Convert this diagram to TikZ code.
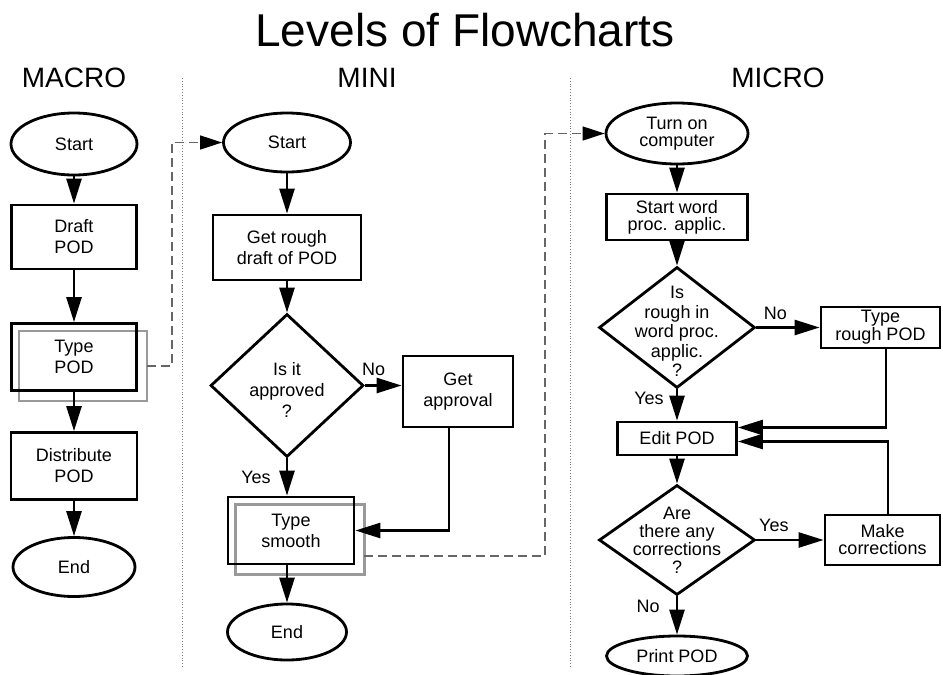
\documentclass[tikz,border=0pt]{standalone}
\usepackage{fontspec}
\setmainfont{Liberation Sans}
\usetikzlibrary{arrows.meta,shapes.geometric,backgrounds}

\tikzset{
  >={Triangle[length=25pt,width=15pt]},
  txt/.style={font=\fontsize{18}{21}\selectfont, align=center},
  head/.style={font=\fontsize{28}{32}\selectfont, anchor=base},
  term/.style={txt, draw, ellipse, line width=2.8pt, inner sep=0pt},
  proc/.style={txt, draw, rectangle, line width=2.8pt, inner sep=0pt},
  deci/.style={draw, diamond, line width=2.8pt, inner sep=0pt},
  lab/.style={txt, inner sep=1pt},
  flow/.style={->, line width=2.6pt},
  shadowbox/.style={draw=black!40, line width=2.6pt},
  link/.style={draw=black!60, line width=1.4pt, dash pattern=on 9pt off 5pt,
    -{Triangle[length=22pt,width=14pt,color=black]}},
  sep/.style={draw=black!50, line width=0.8pt, dotted},
}

\begin{document}
\begin{tikzpicture}[x=1pt, y=-1pt]
  \useasboundingbox (0,0) rectangle (943,675);

  % titles
  \node[txt, font=\fontsize{46}{50}\selectfont, anchor=base] (title) at (465,46) {Levels of Flowcharts};
  \node[head] (macro) at (74,87)  {MACRO};
  \node[head] (mini)  at (367,87) {MINI};
  \node[head] (micro) at (778,87) {MICRO};

  \draw[sep] (182,78) -- (182,668);
  \draw[sep] (570,78) -- (570,668);

  % macro level
  \node[term, minimum width=126pt, minimum height=62pt] (A1) at (74,144) {Start};
  \node[proc, minimum width=125pt, minimum height=64pt] (A2) at (74,237) {Draft\\POD};
  \node[proc, minimum width=125pt, minimum height=67pt] (A3) at (74,357) {Type\\POD};
  \node[proc, minimum width=126pt, minimum height=67pt] (A4) at (74,466) {Distribute\\POD};
  \node[term, minimum width=122pt, minimum height=59pt] (A5) at (74,567) {End};

  % mini level
  \node[term, minimum width=127pt, minimum height=59pt] (B1) at (287,142.5) {Start};
  \node[proc, minimum width=148pt, minimum height=65pt] (B2) at (287,247.5) {Get rough\\draft of POD};
  \node[deci, minimum width=153pt, minimum height=143pt,
        label={[txt, yshift=-4.5pt]center:Is it\\approved\\?}] (B3) at (287,385.5) {};
  \node[proc, minimum width=110pt, minimum height=71pt] (B4) at (458,391.5) {Get\\approval};
  \node[proc, minimum width=126pt, minimum height=67pt] (B5) at (291,530.5) {Type\\smooth};
  \node[term, minimum width=119pt, minimum height=56pt] (B6) at (287,632) {End};

  % micro level
  \node[term, minimum width=142pt, minimum height=61pt, font=\fontsize{18}{17}\selectfont] (C1) at (677,133.5) {Turn on\\computer};
  \node[proc, minimum width=141pt, minimum height=46pt, font=\fontsize{18}{17}\selectfont] (C2) at (677,217) {Start word\\proc. applic.};
  \node[deci, minimum width=156pt, minimum height=121pt,
        label={[txt, font=\fontsize{18}{19.5}\selectfont, yshift=-4pt]center:Is\\rough in\\word proc.\\applic.\\?}] (C3) at (677,327.5) {};
  \node[proc, minimum width=119pt, minimum height=41pt, font=\fontsize{18}{15}\selectfont] (C4) at (880.5,327.5) {Type\\rough POD};
  \node[proc, minimum width=119pt, minimum height=33pt] (C5) at (677,438.5) {Edit POD};
  \node[deci, minimum width=156pt, minimum height=110pt,
        label={[txt, font=\fontsize{18}{18}\selectfont]center:Are\\there any\\corrections\\?}] (C6) at (677,540) {};
  \node[proc, minimum width=115pt, minimum height=50pt, font=\fontsize{18}{17}\selectfont] (C7) at (882.5,540) {Make\\corrections};
  \node[term, minimum width=141pt, minimum height=40pt] (C8) at (677,656) {Print POD};

  \begin{scope}[on background layer]
    \draw[shadowbox] ([shift={(9pt,-9pt)}]A3.north west) rectangle ([shift={(9pt,-9pt)}]A3.south east);
    \draw[shadowbox] ([shift={(9pt,-9pt)}]B5.north west) rectangle ([shift={(9pt,-9pt)}]B5.south east);
  \end{scope}

  \path[flow] (A1) edge (A2)
              (A2) edge (A3)
              (A3) edge (A4)
              (A4) edge (A5)
              (B1) edge (B2)
              (B2) edge (B3)
              (B3.east) edge node[lab, pos=0.24, anchor=base, yshift=10pt] {No} (B3.east -| B4.west)
              (B3) edge node[lab, pos=0.52, left=14pt] {Yes} (B3.south |- B5.north)
              (B3.south |- B5.south) edge (B6)
              (C1) edge (C2)
              (C2) edge (C3)
              (C3.east) edge node[lab, pos=0.3, anchor=base, yshift=8.5pt] {No} (C4.west)
              (C3) edge node[lab, pos=0.3, left=11pt] {Yes} (C5)
              (C5) edge (C6)
              (C6.east) edge node[lab, pos=0.26, anchor=base, yshift=9pt] {Yes} (C7.west)
              (C6) edge node[lab, pos=0.27, left=15pt] {No} (C8);

  \draw[flow] ([xshift=-9pt]B4.south) |- (B5.east);
  \draw[flow] ([xshift=5.5pt]C4.south) |- ([yshift=11pt]C5.east);
  \draw[flow] ([xshift=5.5pt]C7.north) |- ([yshift=-3pt]C5.east);

  % links between levels
  \coordinate (d1) at (172,142.5);
  \coordinate (d2) at (545,133.5);
  \draw[link] ([shift={(9pt,-9pt)}]A3.east) -| (d1) -- (B1.west);
  \draw[link] ([shift={(9pt,-25.5pt)}]B5.east) -| (d2) -- (C1.west);
\end{tikzpicture}
\end{document}
